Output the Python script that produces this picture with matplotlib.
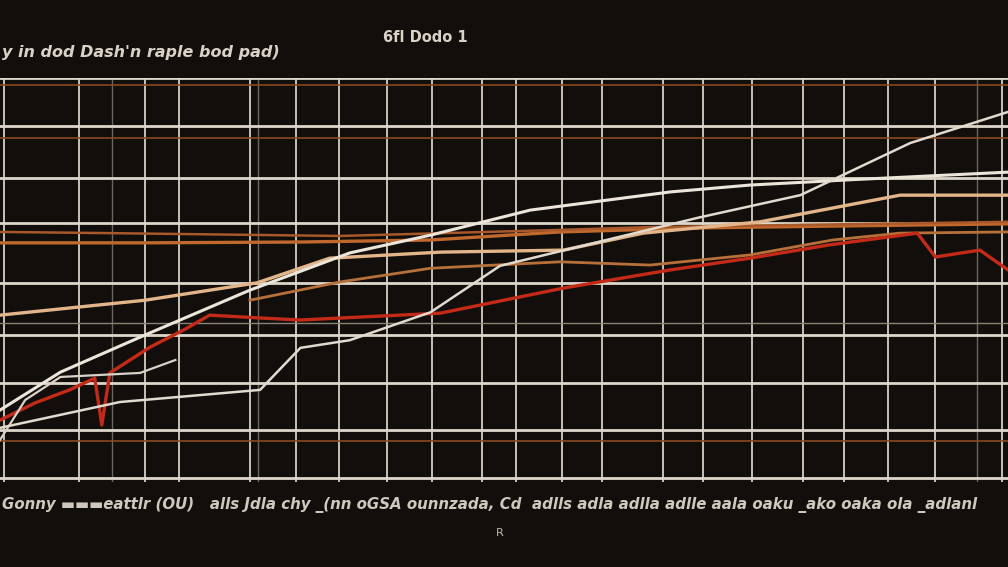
import numpy as np
import matplotlib
matplotlib.use("Agg")
import matplotlib.pyplot as plt

BG = "#120e0b"

# grid positions (data units, x 0..100, y 0..100)
x_grid_major = [0.4, 7.8, 14.4, 17.8, 24.8, 29.4, 33.6, 38.4, 42.9, 47.8, 51.2,
                55.8, 59.7, 65.8, 69.7, 74.6, 79.7, 83.7, 88.1, 92.8, 99.4]
x_grid_minor = [11.1, 25.6, 96.9]
y_grid_major = [100, 88.1, 75.2, 64.1, 49.3, 36.4, 24.5, 12.9, 1.0]
y_grid_minor = [39.4]
y_grid_orange = [98.3, 85.1, 10.1]

# series: white lines
s1_x = [0, 6, 14.4, 24.8, 34.7, 42.7, 52.6, 66.5, 74.4, 84.3, 100]
s1_y = [17.8, 27.2, 36.4, 47.5, 56.7, 61.1, 67.3, 71.8, 73.5, 74.8, 76.7]
s2_x = [0, 11.9, 25.8, 29.8, 34.7, 42.7, 49.6, 59.5, 69.4, 79.4, 90.3, 100]
s2_y = [13.4, 19.8, 22.8, 33.2, 35.1, 42.0, 53.5, 59.5, 65.5, 71.0, 83.9, 91.6]
s3_x = [0, 2.5, 6.0, 13.9, 17.4]
s3_y = [10.4, 20.3, 26.0, 27.0, 30.2]
# cream / orange lines
s4_x = [0, 14.4, 25.5, 32.7, 43.7, 55.9, 63.8, 75.4, 89.3, 100]
s4_y = [41.3, 45.0, 49.3, 55.4, 56.9, 57.4, 61.6, 64.4, 71.0, 71.0]
s5_x = [0, 14.4, 29.8, 42.7, 55.6, 69.4, 84.3, 100]
s5_y = [59.2, 59.2, 59.4, 59.9, 61.9, 62.9, 63.4, 63.9]
s6_x = [0, 10.9, 33.7, 55.6, 64.5, 100]
s6_y = [61.9, 61.6, 60.9, 62.4, 63.1, 64.4]
s7_x = [24.8, 33.7, 42.7, 55.6, 64.5, 74.4, 82.6, 89.3, 100]
s7_y = [45.0, 49.5, 52.9, 54.5, 53.7, 56.2, 59.9, 61.6, 61.9]
# red line
s8_x = [0, 3.5, 6.9, 9.4, 10.1, 10.9, 14.9, 18.2, 20.8, 25.8, 29.8, 43.7, 55.9,
        66.5, 74.4, 82.3, 91.0, 92.8, 97.2, 100]
s8_y = [15.3, 19.6, 22.8, 25.7, 14.1, 27.0, 33.4, 37.6, 41.3, 40.6, 40.1, 41.8,
        48.0, 52.5, 55.4, 58.7, 61.6, 55.7, 57.4, 52.5]

title = "6fl Dodo 1"
subtitle = "y in dod Dash'n raple bod pad)"
xlabel = ("Gonny \u25ac\u25ac\u25aceattlr (OU)   alls Jdla chy _(nn oGSA ounnz"
          "ada, Cd  adlls adla adlla adlle aala oaku _ako oaka ola _adlanl")

fig = plt.figure(figsize=(10.08, 5.67), dpi=100, facecolor=BG)
ax = fig.add_axes([0, 85 / 567, 1, 404 / 567])
ax.set_facecolor(BG)
ax.set_xlim(0, 100)
ax.set_ylim(0, 100)

for gx in x_grid_major:
    ax.axvline(gx, color="#c8c1b5", lw=1.4, zorder=1)
for gx in x_grid_minor:
    ax.axvline(gx, color="#6e665c", lw=1.0, zorder=1)
for gy in y_grid_major:
    ax.axhline(gy, color="#ddd6ca", lw=2.0, zorder=1)
for gy in y_grid_minor:
    ax.axhline(gy, color="#8a8378", lw=1.0, zorder=1)
for gy in y_grid_orange:
    ax.axhline(gy, color="#8a4a22", lw=1.2, zorder=1)

ax.plot(s5_x, s5_y, color="#c0682e", lw=2.4, zorder=2)
ax.plot(s6_x, s6_y, color="#a8582a", lw=1.8, zorder=2)
ax.plot(s7_x, s7_y, color="#b8703a", lw=2.0, zorder=2)
ax.plot(s4_x, s4_y, color="#e2b58a", lw=2.4, zorder=3)
ax.plot(s8_x, s8_y, color="#c42a18", lw=2.4, zorder=3)
ax.plot(s3_x, s3_y, color="#d8d2c8", lw=1.6, zorder=4)
ax.plot(s1_x, s1_y, color="#ebe5da", lw=2.2, zorder=4)
ax.plot(s2_x, s2_y, color="#e0dacf", lw=1.8, zorder=4)

ax.set_xticks([])
ax.set_yticks([])
for sp in ax.spines.values():
    sp.set_visible(False)

txt = "#d9d2c6"
fig.text(425 / 1008, 1 - 37 / 567, title, color=txt, fontsize=10.5,
         fontweight="bold", ha="center", va="center")
fig.text(0.002, 1 - 53 / 567, subtitle, color=txt, fontsize=11.5,
         fontweight="bold", style="italic", ha="left", va="center")
fig.text(0.002, 1 - 505 / 567, xlabel, color="#cfc8bc", fontsize=10.8,
         fontweight="bold", style="italic", ha="left", va="center")
fig.text(500 / 1008, 1 - 533 / 567, "R", color="#bdb6aa", fontsize=8,
         ha="center", va="center")

fig.savefig("out.png", dpi=100, facecolor=BG)
